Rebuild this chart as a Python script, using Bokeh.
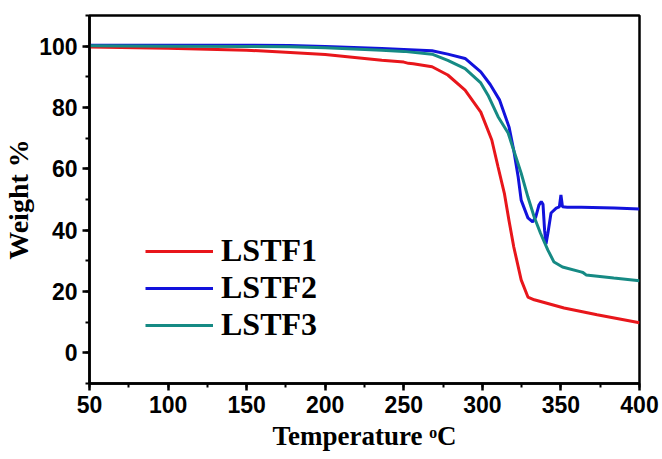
from bokeh.plotting import figure
from bokeh.models import Range1d, SingleIntervalTicker, Legend, LegendItem
from bokeh.embed import file_html
from bokeh.resources import INLINE

# ---- data ----
T_LSTF1 = [50, 100, 150, 175, 200, 236, 250, 253, 256, 268, 278, 289, 299, 306, 310, 314, 317,
           320, 324.7, 329, 333, 352, 373, 400]
W_LSTF1 = [99.7, 99.3, 98.7, 98.0, 97.3, 95.4, 94.8, 94.4, 94.3, 93.3, 90.6, 85.7, 78.5, 69.4, 60.6,
           52.0, 43.0, 34.5, 23.8, 18.2, 17.3, 14.6, 12.4, 9.8]

T_LSTF2 = [50, 100, 150, 177, 200, 236, 250, 268, 278, 289, 299, 305, 311, 317, 320, 322.8,
           324.7, 329, 332, 334, 336, 337.5, 338.6, 339.6, 340.5, 341.7, 343.7, 347, 349, 350,
           351, 354, 363, 384, 400]
W_LSTF2 = [100.3, 100.3, 100.3, 100.2, 99.9, 99.2, 98.9, 98.5, 97.4, 96.0, 91.6, 87.5, 82.4,
           73.6, 66.0, 57.3, 49.8, 44.0, 42.7, 44.3, 48.2, 49.3, 48.4, 40.0, 35.5, 39.0, 45.6,
           47.2, 47.6, 51.5, 47.6, 47.5, 47.5, 47.2, 46.9]

T_LSTF3 = [50, 100, 150, 177, 200, 236, 250, 268, 278, 289, 299, 303.6, 310, 316.4, 320,
           324.7, 329, 333, 337, 341.7, 345.6, 351, 362.7, 364, 366, 383.6, 400]
W_LSTF3 = [100.1, 100.0, 99.9, 99.8, 99.5, 98.7, 98.3, 97.4, 95.4, 92.7, 88.0, 84.0, 77.0,
           71.7, 66.0, 58.6, 50.8, 44.3, 39.0, 33.5, 29.6, 28.0, 26.4, 26.2, 25.4, 24.4, 23.5]

SERIES = ["LSTF1", "LSTF2", "LSTF3"]
COLORS = ["#e8161b", "#1212dc", "#168a84"]

X_TITLE = "Temperature \u1d52C"
Y_TITLE = "Weight %"

p = figure(width=662, height=459, output_backend="svg", toolbar_location=None,
           x_range=Range1d(50, 400), y_range=Range1d(-10, 110),
           min_border_left=86, min_border_right=23, min_border_top=15, min_border_bottom=76)
p.grid.visible = False
p.outline_line_color = "black"
p.outline_line_width = 2.5
p.background_fill_color = "white"
p.border_fill_color = "white"

p.xaxis.ticker = SingleIntervalTicker(interval=50, num_minor_ticks=2)
p.yaxis.ticker = SingleIntervalTicker(interval=20, num_minor_ticks=2)
for ax in (p.xaxis, p.yaxis):
    ax.axis_line_color = "black"
    ax.axis_line_width = 2.5
    ax.major_tick_line_color = "black"
    ax.major_tick_line_width = 2.5
    ax.minor_tick_line_color = "black"
    ax.minor_tick_line_width = 2
    ax.major_tick_in = 0
    ax.major_tick_out = 7
    ax.minor_tick_in = 0
    ax.minor_tick_out = 4
    ax.major_label_text_font = "Liberation Sans"
    ax.major_label_text_font_style = "bold"
    ax.major_label_text_font_size = "23px"
    ax.major_label_text_color = "black"
    ax.major_label_standoff = 5
    ax.axis_label_text_font = "Liberation Serif"
    ax.axis_label_text_font_style = "bold"
    ax.axis_label_text_color = "black"

p.yaxis.axis_label = Y_TITLE
p.yaxis.axis_label_text_font_size = "28px"
p.yaxis.axis_label_standoff = 2

p.xaxis.axis_label = X_TITLE
p.xaxis.axis_label_text_font_size = "27px"
p.xaxis.axis_label_standoff = 5

renderers = []
for t, w, c in zip([T_LSTF1, T_LSTF2, T_LSTF3], [W_LSTF1, W_LSTF2, W_LSTF3], COLORS):
    renderers.append(p.line(t, w, line_color=c, line_width=3))

legend = Legend(items=[LegendItem(label=s, renderers=[r]) for s, r in zip(SERIES, renderers)],
                location=(56, 40))
legend.border_line_alpha = 0
legend.background_fill_alpha = 0
legend.padding = 0
legend.margin = 0
legend.spacing = 0
legend.glyph_width = 68
legend.glyph_height = 36
legend.label_height = 36
legend.label_standoff = 8
legend.label_text_font = "Liberation Serif"
legend.label_text_font_style = "bold"
legend.label_text_font_size = "32px"
legend.label_text_color = "black"
p.add_layout(legend)

open("out.html", "w").write(file_html(p, INLINE))
